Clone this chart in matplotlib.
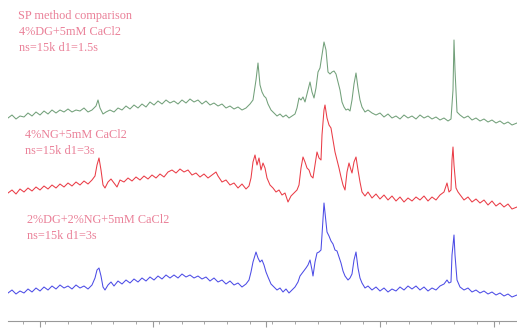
import numpy as np
import matplotlib
matplotlib.use("Agg")
from matplotlib import pyplot as plt
from matplotlib.ticker import MultipleLocator

# readings: position along the axis (pixel column) and trace height (pixel row)
green_x = [8, 12, 16, 20, 24, 28, 32, 36, 40, 44, 48, 52, 56, 60, 64, 68, 72, 76, 80, 84, 88, 92, 96, 98, 100, 103,
           106, 110, 114, 118, 122, 126, 130, 134, 138, 142, 146, 150, 154, 158, 162, 166, 170, 174, 178, 182, 186,
           190, 194, 198, 202, 206, 210, 214, 218, 222, 226, 230, 234, 238, 242, 246, 250, 253, 256, 258, 260, 262,
           264, 266, 268, 271, 274, 277, 280, 283, 286, 289, 292, 295, 297, 299, 301, 303, 305, 308, 310, 312, 314,
           316, 318, 320, 322, 324, 326, 328, 330, 332, 334, 336, 338, 340, 342, 344, 346, 348, 350, 352, 354, 356,
           358, 360, 362, 365, 368, 372, 376, 380, 384, 388, 392, 396, 400, 404, 408, 412, 416, 420, 424, 428, 432,
           436, 440, 444, 448, 451, 453, 454, 455, 457, 460, 464, 468, 472, 476, 480, 484, 488, 492, 496, 500, 504,
           508, 512, 517]
green_y = [118, 115, 119, 116, 117, 113, 116, 112, 115, 111, 114, 110, 113, 110, 112, 109, 112, 110, 111, 108, 112,
           110, 106, 100, 108, 114, 112, 110, 112, 108, 110, 106, 109, 105, 108, 104, 107, 102, 105, 101, 104, 100,
           103, 101, 104, 100, 103, 99, 102, 100, 104, 101, 105, 103, 106, 104, 108, 106, 109, 107, 110, 108, 104,
           100, 80, 63, 85, 92, 96, 98, 104, 110, 113, 116, 114, 117, 115, 118, 116, 114, 108, 98, 100, 97, 102, 90,
           82, 92, 98, 88, 72, 68, 55, 42, 50, 72, 74, 72, 71, 74, 82, 90, 102, 107, 110, 109, 111, 100, 84, 73, 88,
           100, 107, 112, 110, 113, 115, 113, 117, 114, 118, 116, 119, 115, 118, 116, 119, 115, 118, 116, 119, 117,
           120, 118, 121, 119, 90, 40, 70, 112, 115, 118, 116, 120, 118, 121, 119, 122, 120, 123, 121, 124, 122, 125,
           123]

red_x = [8, 12, 16, 20, 24, 28, 32, 36, 40, 44, 48, 52, 56, 60, 64, 68, 72, 76, 80, 84, 88, 92, 95, 97, 99, 101, 103,
         105, 108, 111, 114, 117, 120, 124, 128, 132, 136, 140, 144, 148, 152, 156, 160, 164, 168, 172, 176, 180, 184,
         188, 192, 196, 200, 204, 208, 212, 216, 218, 222, 226, 230, 234, 238, 242, 246, 249, 251, 253, 255, 257, 259,
         261, 263, 265, 267, 270, 273, 276, 279, 282, 285, 288, 291, 294, 297, 299, 301, 303, 305, 307, 309, 311, 313,
         315, 317, 319, 321, 322, 324, 325, 327, 329, 331, 333, 335, 337, 339, 341, 343, 345, 347, 349, 351, 352, 354,
         356, 358, 360, 362, 365, 368, 372, 376, 380, 384, 388, 392, 396, 400, 404, 408, 412, 416, 420, 424, 428, 432,
         436, 440, 444, 447, 449, 451, 452, 453, 454, 456, 458, 461, 464, 468, 472, 476, 480, 484, 488, 492, 496, 500,
         504, 508, 512, 517]
red_y = [193, 190, 194, 189, 192, 188, 191, 187, 190, 186, 189, 185, 188, 184, 187, 183, 186, 182, 185, 181, 184, 180,
         176, 165, 158, 170, 185, 188, 182, 179, 183, 187, 180, 182, 178, 181, 177, 180, 176, 179, 175, 178, 174, 177,
         172, 170, 173, 169, 172, 170, 175, 173, 177, 174, 178, 175, 172, 176, 182, 180, 185, 183, 188, 184, 189, 186,
         178, 162, 155, 165, 158, 170, 163, 168, 178, 185, 188, 192, 190, 195, 193, 202, 196, 193, 190, 185, 168, 157,
         162, 168, 170, 176, 178, 165, 152, 158, 160, 135, 110, 105, 118, 125, 128, 140, 152, 160, 168, 177, 185, 190,
         172, 163, 170, 173, 162, 157, 170, 182, 192, 196, 192, 198, 194, 199, 195, 200, 196, 201, 197, 202, 198, 201,
         197, 200, 196, 201, 197, 200, 195, 192, 183, 192, 190, 160, 147, 165, 188, 192, 196, 200, 197, 202, 199, 203,
         200, 205, 201, 206, 203, 207, 204, 209, 207]

blue_x = [8, 12, 16, 20, 24, 28, 32, 36, 40, 44, 48, 52, 56, 60, 64, 68, 72, 76, 80, 84, 88, 92, 95, 97, 99, 101, 103,
          105, 108, 111, 114, 118, 122, 126, 130, 134, 138, 142, 146, 150, 154, 158, 162, 166, 170, 174, 178, 182, 186,
          190, 194, 198, 202, 206, 210, 214, 218, 222, 226, 230, 234, 238, 242, 246, 249, 251, 253, 256, 258, 260, 262,
          264, 266, 268, 271, 274, 277, 280, 283, 286, 289, 292, 295, 298, 300, 303, 306, 308, 310, 312, 313, 315, 317,
          319, 321, 322, 324, 326, 327, 329, 331, 333, 335, 337, 339, 341, 343, 345, 348, 350, 352, 354, 356, 358, 360,
          362, 365, 368, 372, 376, 380, 384, 388, 392, 396, 400, 404, 408, 412, 416, 420, 424, 428, 432, 436, 440, 444,
          447, 449, 451, 452, 454, 455, 457, 460, 464, 468, 472, 476, 480, 484, 488, 492, 496, 500, 504, 508, 512, 517]
blue_y = [293, 290, 294, 291, 293, 289, 292, 288, 291, 287, 290, 286, 289, 285, 288, 286, 289, 285, 288, 286, 289, 285,
          278, 270, 268, 276, 287, 290, 285, 282, 286, 281, 284, 280, 283, 279, 282, 278, 281, 277, 280, 276, 279, 275,
          278, 275, 278, 274, 277, 275, 278, 276, 279, 277, 281, 278, 282, 280, 284, 281, 285, 283, 287, 284, 280, 272,
          262, 252, 258, 262, 260, 265, 272, 277, 284, 287, 290, 288, 292, 289, 293, 290, 287, 282, 276, 272, 268, 265,
          260, 270, 276, 262, 253, 252, 250, 235, 203, 222, 232, 236, 241, 244, 250, 251, 257, 263, 271, 276, 280, 278,
          274, 260, 252, 268, 278, 283, 288, 286, 290, 287, 291, 288, 292, 289, 291, 287, 290, 286, 289, 286, 290, 287,
          291, 288, 290, 286, 284, 280, 283, 282, 255, 235, 255, 280, 287, 290, 288, 292, 290, 293, 291, 294, 292, 295,
          293, 296, 294, 297, 295]

major_ticks = [40, 153, 266, 380, 494]
# text lines: (text, left column, centre row)
labels = [
    ("SP method comparison", 18, 16),
    ("4%DG+5mM CaCl2", 19, 32),
    ("ns=15k d1=1.5s", 19, 48),
    ("4%NG+5mM CaCl2", 25, 135),
    ("ns=15k d1=3s", 25, 151),
    ("2%DG+2%NG+5mM CaCl2", 27, 220),
    ("ns=15k d1=3s", 27, 236),
]

W, H = 517, 328
base = 321  # row of the axis line

fig = plt.figure(figsize=(W / 100, H / 100), dpi=100)
ax = fig.add_axes([8 / W, (H - base) / H, (W - 8) / W, base / H])

for xs, ys, col in [(green_x, green_y, "#72a07a"), (red_x, red_y, "#ea3c46"), (blue_x, blue_y, "#4c4ce6")]:
    ax.plot(xs, base - np.array(ys), color=col, lw=0.75)

ax.set_xlim(8, W)
ax.set_ylim(0, base)
for s in ["left", "right", "top"]:
    ax.spines[s].set_visible(False)
ax.spines["bottom"].set_color("#999999")
ax.spines["bottom"].set_linewidth(0.8)
ax.set_yticks([])
ax.set_xticks(major_ticks)
ax.xaxis.set_minor_locator(MultipleLocator(113.5 / 5))
ax.set_xticklabels([])
ax.tick_params(axis="x", which="major", length=4, color="#999999", width=0.8)
ax.tick_params(axis="x", which="minor", length=2.5, color="#999999", width=0.6)

for txt, x, y in labels:
    fig.text(x / W, 1 - y / H, txt, ha="left", va="center", fontsize=8.8, color="#ea8098",
             family="Liberation Serif")

fig.savefig("out.png", dpi=100)
